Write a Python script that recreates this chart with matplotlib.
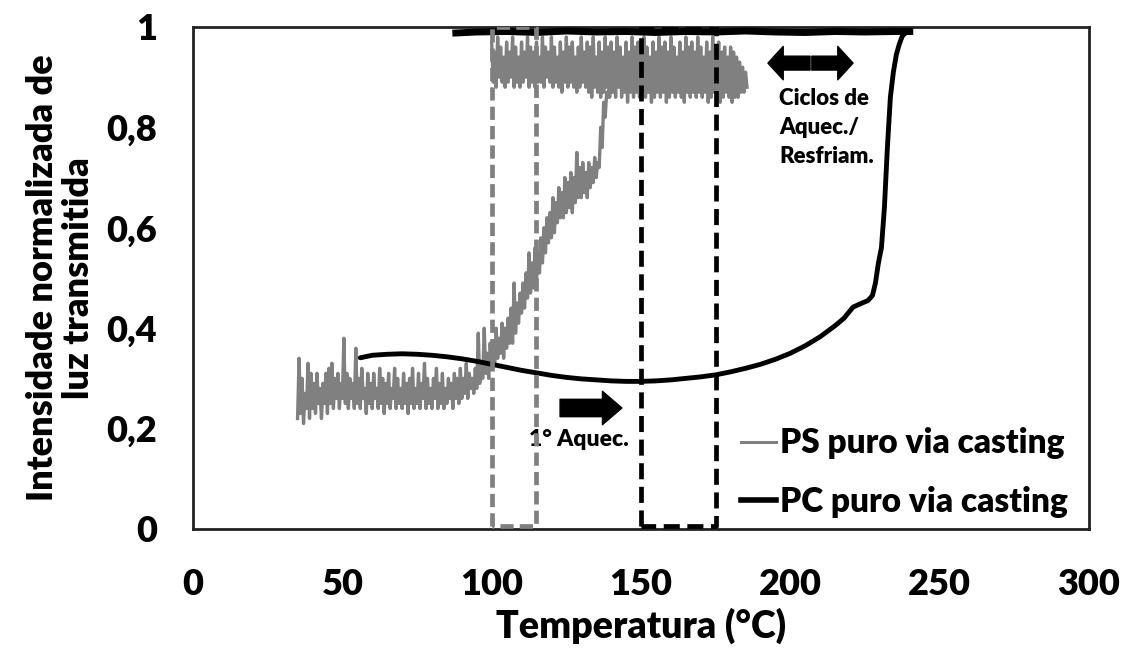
import numpy as np
import matplotlib
matplotlib.use("Agg")
import matplotlib.pyplot as plt
from matplotlib.lines import Line2D

plt.rcParams['font.family'] = ['Lato', 'DejaVu Sans']
plt.rcParams['font.weight'] = 'heavy'
plt.rcParams['axes.labelweight'] = 'heavy'

# PS, 1o aquecimento: leituras a cada 0,5 C a partir de 35 C
ps_t0 = 35.0
ps_step = 0.5
ps_heat = [
    0.22, 0.34, 0.23, 0.30, 0.21, 0.27, 0.24, 0.33, 0.22, 0.31,   # 35
    0.24, 0.29, 0.23, 0.31, 0.25, 0.28, 0.22, 0.29, 0.25, 0.31,   # 40
    0.23, 0.32, 0.25, 0.33, 0.24, 0.30, 0.26, 0.31, 0.24, 0.29,   # 45
    0.26, 0.38, 0.25, 0.31, 0.24, 0.30, 0.26, 0.29, 0.24, 0.36,   # 50
    0.25, 0.30, 0.24, 0.32, 0.26, 0.28, 0.23, 0.31, 0.25, 0.29,   # 55
    0.24, 0.31, 0.26, 0.28, 0.24, 0.32, 0.25, 0.30, 0.23, 0.29,   # 60
    0.25, 0.31, 0.24, 0.28, 0.26, 0.32, 0.24, 0.30, 0.25, 0.28,   # 65
    0.24, 0.31, 0.25, 0.29, 0.23, 0.30, 0.25, 0.32, 0.24, 0.28,   # 70
    0.25, 0.31, 0.24, 0.29, 0.26, 0.33, 0.24, 0.30, 0.25, 0.28,   # 75
    0.24, 0.30, 0.26, 0.32, 0.24, 0.29, 0.25, 0.31, 0.24, 0.28,   # 80
    0.25, 0.30, 0.26, 0.29, 0.24, 0.31, 0.26, 0.30, 0.25, 0.32,   # 85
    0.26, 0.30, 0.27, 0.33, 0.26, 0.31, 0.28, 0.30, 0.27, 0.32,   # 90
    0.28, 0.39, 0.29, 0.33, 0.30, 0.40, 0.31, 0.35, 0.30, 0.37,   # 95
    0.32, 0.37, 0.33, 0.40, 0.34, 0.38, 0.35, 0.41, 0.34, 0.40,   # 100
    0.36, 0.42, 0.37, 0.44, 0.37, 0.49, 0.39, 0.45, 0.41, 0.47,   # 105
    0.43, 0.49, 0.44, 0.51, 0.46, 0.55, 0.47, 0.53, 0.48, 0.56,   # 110
    0.49, 0.55, 0.51, 0.58, 0.53, 0.60, 0.55, 0.62, 0.57, 0.63,   # 115
    0.58, 0.66, 0.59, 0.65, 0.61, 0.68, 0.62, 0.67, 0.62, 0.70,   # 120
    0.63, 0.69, 0.64, 0.71, 0.63, 0.70, 0.65, 0.75, 0.66, 0.72,   # 125
    0.66, 0.73, 0.67, 0.71, 0.66, 0.73, 0.68, 0.72, 0.69, 0.74,   # 130
    0.70, 0.73, 0.72, 0.80, 0.76, 0.85, 0.82, 0.87, 0.86, 0.90,   # 135
    0.88, 0.92, 0.89,                                             # 140
]

# PS, ciclos de aquecimento/resfriamento: picos (hi) e vales (lo) por grau, 100..185 C
band_t0 = 100
band_hi = [
    0.97, 0.95, 0.98, 0.96, 0.94, 0.97, 0.95, 0.98, 0.96, 0.94,
    0.97, 0.95, 0.98, 0.96, 0.95, 0.97, 0.94, 0.98, 0.96, 0.95,
    0.98, 0.96, 0.94, 0.97, 0.95, 0.98, 0.96, 0.97, 0.94, 0.96,
    0.98, 0.95, 0.97, 0.96, 0.98, 0.94, 0.97, 0.95, 0.98, 0.96,
    0.97, 0.95, 0.98, 0.96, 0.94, 0.97, 0.95, 0.98, 0.96, 0.97,
    0.95, 0.98, 0.96, 0.94, 0.97, 0.95, 0.98, 0.96, 0.97, 0.95,
    0.98, 0.96, 0.94, 0.97, 0.95, 0.98, 0.96, 0.97, 0.95, 0.98,
    0.96, 0.94, 0.97, 0.95, 0.98, 0.96, 0.97, 0.95, 0.96, 0.94,
    0.96, 0.95, 0.94, 0.93, 0.92, 0.91,
]
band_lo = [
    0.89, 0.88, 0.90, 0.89, 0.88, 0.89, 0.90, 0.88, 0.89, 0.88,
    0.89, 0.90, 0.88, 0.89, 0.88, 0.89, 0.89, 0.88, 0.90, 0.89,
    0.88, 0.89, 0.88, 0.87, 0.89, 0.88, 0.89, 0.88, 0.87, 0.88,
    0.89, 0.88, 0.87, 0.86, 0.88, 0.87, 0.86, 0.87, 0.88, 0.86,
    0.87, 0.86, 0.88, 0.86, 0.87, 0.85, 0.87, 0.86, 0.87, 0.86,
    0.87, 0.86, 0.87, 0.85, 0.86, 0.87, 0.86, 0.87, 0.85, 0.86,
    0.87, 0.86, 0.87, 0.86, 0.85, 0.87, 0.86, 0.87, 0.86, 0.87,
    0.86, 0.87, 0.85, 0.86, 0.87, 0.86, 0.85, 0.86, 0.87, 0.86,
    0.85, 0.86, 0.86, 0.87, 0.87, 0.88,
]

# PC, 1o aquecimento
pc_t = [56, 60, 65, 70, 75, 80, 85, 90, 95, 100, 105, 110, 115, 120, 125,
        130, 135, 140, 145, 150, 155, 160, 165, 170, 175, 180, 185, 190,
        195, 200, 205, 210, 215, 218, 221, 224, 226, 227.5, 228.5, 229.5,
        230.5, 231.5, 232.5, 233.5, 234.5, 235.5, 236.5, 237.5, 238.5, 240]
pc_v = [0.341, 0.346, 0.348, 0.349, 0.348, 0.346, 0.343, 0.339, 0.334,
        0.328, 0.322, 0.316, 0.311, 0.306, 0.302, 0.299, 0.297, 0.295,
        0.294, 0.294, 0.295, 0.297, 0.300, 0.303, 0.307, 0.313, 0.320,
        0.328, 0.338, 0.350, 0.365, 0.383, 0.405, 0.420, 0.442, 0.450,
        0.455, 0.465, 0.49, 0.53, 0.56, 0.64, 0.76, 0.86, 0.91, 0.945,
        0.966, 0.982, 0.988, 0.991]

# PC, ciclos
pc_cyc_t = [88, 95, 105, 115, 125, 135, 145, 155, 165, 175, 185, 195, 205,
            215, 225, 235, 240]
pc_cyc_v = [0.988, 0.990, 0.991, 0.989, 0.992, 0.990, 0.991, 0.989, 0.991,
            0.990, 0.992, 0.990, 0.989, 0.991, 0.990, 0.991, 0.991]

ps_window = (100, 115)
pc_window = (150, 175)

xticks = [0, 50, 100, 150, 200, 250, 300]
yticks = [0, 0.2, 0.4, 0.6, 0.8, 1]
ytick_labels = ['0', '0,2', '0,4', '0,6', '0,8', '1']

GRAY = '#808080'

fig = plt.figure(figsize=(11.23, 6.5), dpi=100)
ax = fig.add_axes([0.1719, 0.1862, 0.7978, 0.7723])

# curva PS
ps_x = ps_t0 + ps_step * np.arange(len(ps_heat))
ax.plot(ps_x, ps_heat, color=GRAY, lw=2.4, zorder=2)

# faixa dos ciclos: zigue-zague entre picos e vales
bx, by = [], []
for i in range(len(band_hi)):
    bx += [band_t0 + i, band_t0 + i + 0.5]
    by += [band_hi[i], band_lo[i]]
ax.plot(bx, by, color=GRAY, lw=2.4, zorder=2)

# curva PC
ax.plot(pc_t, pc_v, color='black', lw=3.5, solid_capstyle='round', zorder=3)
ax.plot(pc_cyc_t, pc_cyc_v, color='black', lw=5, zorder=3)

# janelas tracejadas (base levemente acima do eixo para aparecer)
def window(x0, x1, color, dashes):
    ax.plot([x0, x0, x1, x1, x0], [0.006, 1, 1, 0.006, 0.006], color=color,
            lw=3.4, dashes=dashes, zorder=4)

window(ps_window[0], ps_window[1], GRAY, (2.8, 1.3))
window(pc_window[0], pc_window[1], 'black', (3.4, 1.6))

# setas
ax.annotate('', xy=(143.6, 0.241), xytext=(122.9, 0.241),
            arrowprops=dict(arrowstyle='simple,head_length=1.4,head_width=2.4,tail_width=1.25',
                            color='black', mutation_scale=10, shrinkA=0, shrinkB=0))
ax.text(129.3, 0.178, '1° Aquec.', fontsize=16.5, ha='center', va='center')

ax.annotate('', xy=(192.5, 0.928), xytext=(206.6, 0.928),
            arrowprops=dict(arrowstyle='simple,head_length=1.1,head_width=2.4,tail_width=1.0',
                            color='black', mutation_scale=10, shrinkA=0, shrinkB=0))
ax.annotate('', xy=(221.0, 0.928), xytext=(207.2, 0.928),
            arrowprops=dict(arrowstyle='simple,head_length=1.1,head_width=2.4,tail_width=1.0',
                            color='black', mutation_scale=10, shrinkA=0, shrinkB=0))
ax.text(196.2, 0.878, 'Ciclos de\nAquec./\nResfriam.', fontsize=16, ha='left',
        va='top', linespacing=1.45)

ax.set_xlim(0, 300)
ax.set_ylim(0, 1)
ax.set_xticks(xticks)
ax.set_yticks(yticks)
ax.set_yticklabels(ytick_labels)
ax.tick_params(axis='both', length=0, labelsize=26)
ax.tick_params(axis='x', pad=28)
ax.tick_params(axis='y', pad=26)
for s in ax.spines.values():
    s.set_linewidth(2)
    s.set_color('#222222')

ax.set_xlabel('Temperatura (°C)', fontsize=27, labelpad=5)
ax.set_ylabel('Intensidade normalizada de\nluz transmitida', fontsize=26,
              labelpad=8, linespacing=1.1)

handles = [Line2D([], [], color=GRAY, lw=2.2), Line2D([], [], color='black', lw=4)]
ax.legend(handles, ['PS puro via casting', 'PC puro via casting'],
          loc='lower left', bbox_to_anchor=(0.612, 0.022), frameon=False,
          fontsize=24, handlelength=1.05, handletextpad=0.1, labelspacing=0.8,
          borderpad=0, borderaxespad=0)

fig.savefig('out.png', dpi=100)
